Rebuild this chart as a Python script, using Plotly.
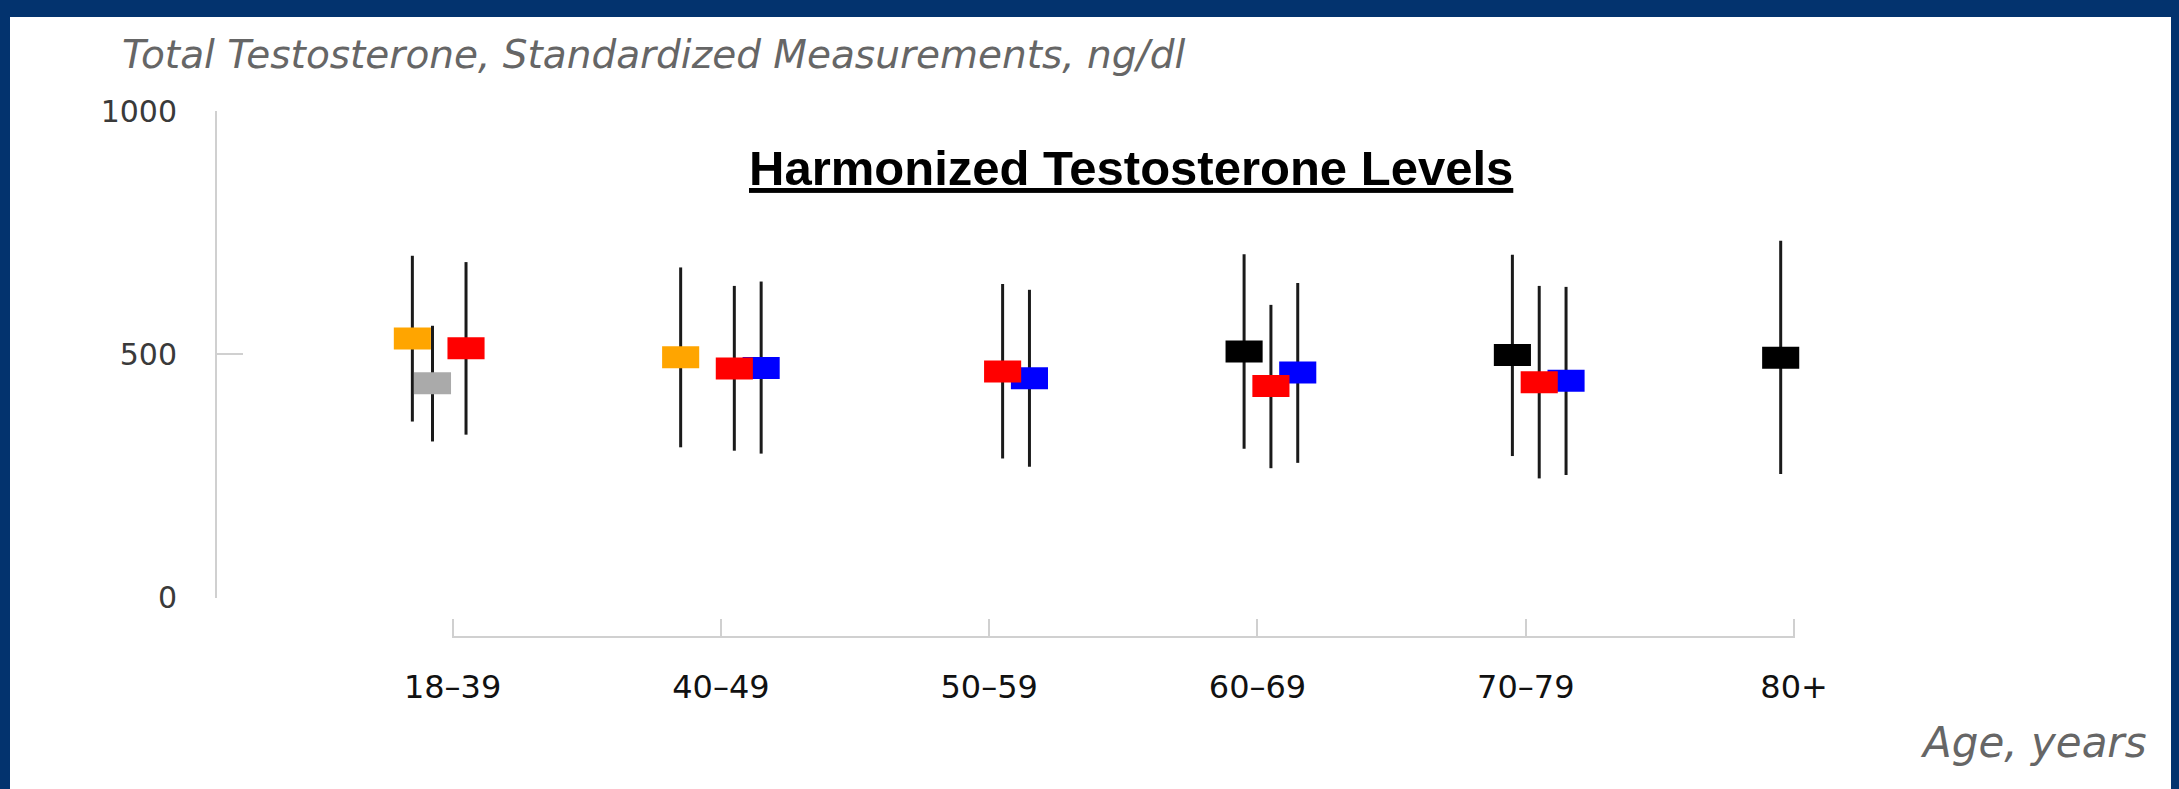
import plotly.graph_objects as go

# ---------------- data ----------------
categories = ["18–39", "40–49", "50–59", "60–69", "70–79", "80+"]
y_ticks = [0, 500, 1000]

orange_mean = [533, 494, None, None, None, None]
orange_low = [362, 309, None, None, None, None]
orange_high = [703, 679, None, None, None, None]

grey_mean = [441, None, None, None, None, None]
grey_low = [321, None, None, None, None, None]
grey_high = [559, None, None, None, None, None]

black_mean = [None, None, None, 506, 499, 493]
black_low = [None, None, None, 306, 291, 254]
black_high = [None, None, None, 706, 705, 734]

blue_mean = [None, 472, 451, 463, 446, None]
blue_low = [None, 296, 269, 277, 252, None]
blue_high = [None, 650, 633, 647, 639, None]

red_mean = [513, 471, 465, 435, 443, None]
red_low = [335, 302, 286, 266, 245, None]
red_high = [690, 641, 645, 602, 641, None]

# ---------------- styling ----------------
series = [
    dict(color="#FFA500", offset=-0.15, mean=orange_mean, low=orange_low, high=orange_high),
    dict(color="#AAAAAA", offset=-0.075, mean=grey_mean, low=grey_low, high=grey_high),
    dict(color="#000000", offset=-0.05, mean=black_mean, low=black_low, high=black_high),
    dict(color="#0000FF", offset=0.15, mean=blue_mean, low=blue_low, high=blue_high),
    dict(color="#FF0000", offset=0.05, mean=red_mean, low=red_low, high=red_high),
]

W, H = 2179, 789
X0, DX = 452.6, 268.3          # pixel of first category, pixels per category
Y_ZERO, Y_TOP = 597.5, 111.4   # pixel rows of 0 and 1000
AXIS_LEFT = 217
X_AXIS_ROW = 637
NAVY = "#03336E"
AXIS_GREY = "#D0D0D0"
PAD = 0.004                    # tiny range padding so end ticks are drawn

fig = go.Figure()

# whisker lines (drawn first, so squares sit on top)
for s in series:
    xs, ys = [], []
    for i, (m, lo, hi) in enumerate(zip(s["mean"], s["low"], s["high"])):
        if m is None:
            continue
        xs += [i + s["offset"], i + s["offset"], None]
        ys += [lo, hi, None]
    fig.add_trace(go.Scatter(x=xs, y=ys, mode="lines",
                             line=dict(color="#1A1A1A", width=3),
                             hoverinfo="skip", showlegend=False))

# rectangular markers (line-ew path is 1.4*size long, stroke width gives height)
for s in series:
    xs, ys = [], []
    for i, m in enumerate(s["mean"]):
        if m is None:
            continue
        xs.append(i + s["offset"])
        ys.append(m)
    fig.add_trace(go.Scatter(x=xs, y=ys, mode="markers",
                             marker=dict(symbol="line-ew", size=26.5, color=s["color"],
                                         line=dict(width=22, color=s["color"])),
                             showlegend=False, cliponaxis=False))

# dummy trace so the category axis is drawn
fig.add_trace(go.Scatter(x=list(range(len(categories))), y=[None] * len(categories),
                         xaxis="x2", yaxis="y", mode="markers",
                         showlegend=False, hoverinfo="skip"))

n = len(categories) - 1
fig.update_layout(
    width=W, height=H, autosize=False,
    margin=dict(l=0, r=0, t=0, b=0, pad=0, autoexpand=False),
    paper_bgcolor="white", plot_bgcolor="rgba(0,0,0,0)",
    showlegend=False,
    xaxis=dict(domain=[AXIS_LEFT / W, 1.0],
               range=[(AXIS_LEFT - X0) / DX, (W - X0) / DX],
               visible=False, fixedrange=True, automargin=False),
    xaxis2=dict(domain=[(X0 - PAD * DX) / W, (X0 + (n + PAD) * DX) / W],
                range=[-PAD, n + PAD],
                anchor="free", position=1 - X_AXIS_ROW / H,
                showline=True, linecolor=AXIS_GREY, linewidth=2,
                ticks="inside", ticklen=17, tickwidth=2, tickcolor=AXIS_GREY,
                tickvals=list(range(len(categories))), ticktext=categories,
                tickfont=dict(family="DejaVu Sans", size=32, color="#111111"),
                ticklabelstandoff=22, automargin=False,
                showgrid=False, zeroline=False, fixedrange=True),
    yaxis=dict(domain=[1 - Y_ZERO / H, 1 - Y_TOP / H],
               range=[0, 1000], anchor="x",
               showline=True, linecolor=AXIS_GREY, linewidth=2,
               ticks="inside", ticklen=26, tickwidth=2, tickcolor=AXIS_GREY,
               tickvals=y_ticks, ticktext=[str(v) for v in y_ticks],
               tickfont=dict(family="DejaVu Sans", size=30, color="#3A3A3A"),
               ticklabelstandoff=32, automargin=False,
               showgrid=False, zeroline=False, fixedrange=True),
)

# border bands
for x0, x1, y0, y1 in [(0, 1, 1 - 17 / H, 1), (0, 10 / W, 0, 1), (1 - 8 / W, 1, 0, 1)]:
    fig.add_shape(type="rect", xref="paper", yref="paper", x0=x0, x1=x1, y0=y0, y1=y1,
                  fillcolor=NAVY, line=dict(width=0), layer="above")

fig.add_annotation(text="Harmonized Testosterone Levels", xref="paper", yref="paper",
                   x=1131 / W, y=1 - 168 / H, xanchor="center", yanchor="middle",
                   showarrow=False,
                   font=dict(family="Liberation Sans", size=49, color="black",
                             weight="bold", lineposition="under"))

fig.add_annotation(text="Total Testosterone, Standardized Measurements, ng/dl",
                   xref="paper", yref="paper", x=120 / W, y=1 - 55 / H,
                   xanchor="left", yanchor="middle", showarrow=False,
                   font=dict(family="DejaVu Sans", size=39, color="#666666", style="italic"))

fig.add_annotation(text="Age, years", xref="paper", yref="paper",
                   x=2149 / W, y=1 - 742 / H, xanchor="right", yanchor="middle",
                   showarrow=False,
                   font=dict(family="DejaVu Sans", size=42, color="#666666", style="italic"))

fig.write_html("out.html", post_script="document.body.style.margin='0';",
               config={"displayModeBar": False})
